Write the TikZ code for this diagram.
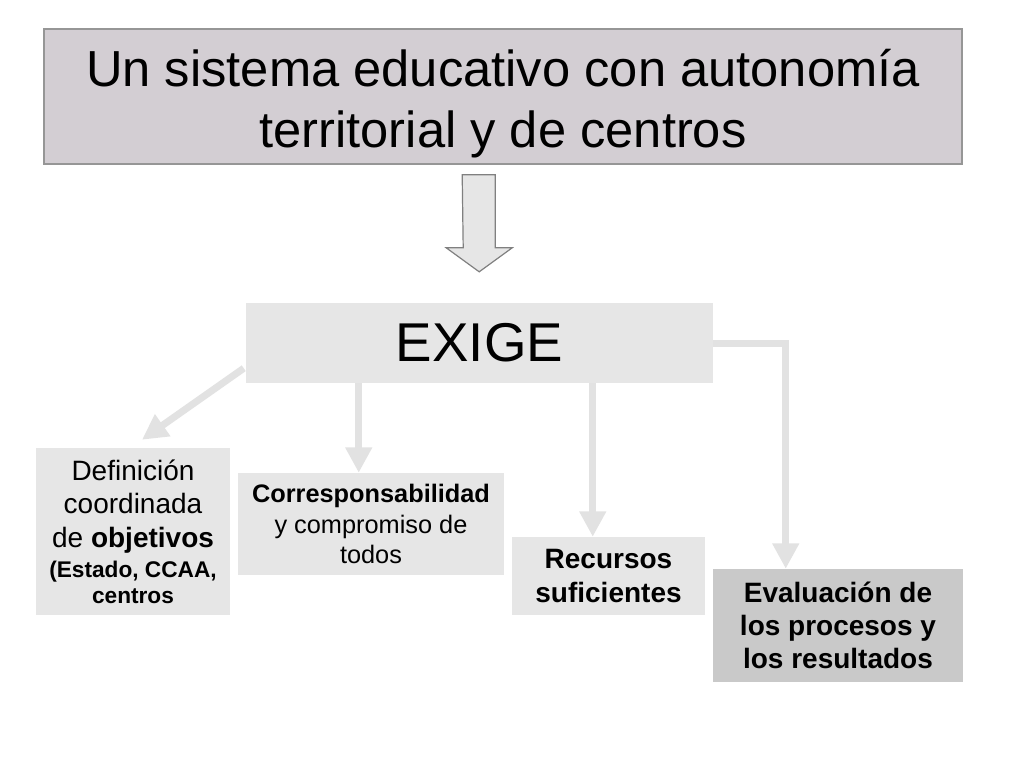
\documentclass[tikz,border=0pt]{standalone}
\usepackage{fontspec}
\setmainfont{Liberation Sans}
\usetikzlibrary{arrows.meta,calc}
\definecolor{titlefill}{RGB}{211,206,211}
\definecolor{titleline}{RGB}{150,150,150}
\definecolor{boxfill}{RGB}{230,230,230}
\definecolor{evalfill}{RGB}{201,201,201}
\definecolor{arrowgray}{RGB}{226,226,226}
\definecolor{bigarrowline}{RGB}{128,128,128}
\begin{document}
\begin{tikzpicture}[x=0.75pt,y=-0.75pt,
  box/.style={rectangle, fill=boxfill, inner sep=0pt, align=center, anchor=center},
  conn/.style={draw=arrowgray, line width=5.25pt, -{Triangle[width=19pt,length=19pt]}},
]
\useasboundingbox[fill=white] (0,0) rectangle (1024,768);

\node[box, fill=titlefill, draw=titleline, line width=1.2pt, minimum width=688.5pt, minimum height=101.25pt]
  (title) at (503,96.5) {};
\node[inner sep=0pt, align=center, font=\fontsize{38}{45.75}\selectfont]
  (titletext) at ($(title.center)+(0,7)$)
  {Un sistema educativo con autonomía\\territorial y de centros};

\node[box, minimum width=350.25pt, minimum height=60pt, font=\fontsize{41}{48}\selectfont]
  (exige) at (479.5,343) {\raisebox{-1.5pt}{EXIGE}};

\node[box, minimum width=145.5pt, minimum height=125.25pt, font=\fontsize{21}{25}\selectfont]
  (def) at (133,531.5)
  {Definición\\coordinada\\de \textbf{objetivos}\\[-2pt]{\fontsize{17}{20}\selectfont\bfseries (Estado, CCAA,}\\[-6pt]{\fontsize{17}{20}\selectfont\bfseries centros}};

\node[box, minimum width=199.5pt, minimum height=76.5pt, font=\fontsize{19}{23}\selectfont]
  (corr) at (371,524)
  {\textbf{Corresponsabilidad}\\y compromiso de\\todos};

\node[box, minimum width=144.75pt, minimum height=58.5pt, font=\fontsize{21}{25}\selectfont\bfseries]
  (rec) at (608.5,576)
  {Recursos\\suficientes};

\node[box, fill=evalfill, minimum width=187.5pt, minimum height=84.75pt, font=\fontsize{21}{25}\selectfont\bfseries]
  (eval) at (838,625.5)
  {Evaluación de\\los procesos y\\los resultados};

% big hollow arrow between title and EXIGE
\coordinate (bigtop) at ($(title.south west)+(419,10)$);
\filldraw[fill=boxfill, draw=bigarrowline, line width=0.9pt, line join=miter]
  (bigtop) -- ++(33,0) -- ++(0,73) -- ++(17,0) -- ++(-33,24) -- ++(-33,-24) -- ++(17,0) -- cycle;

% connectors
\draw[conn] ($(exige.south west)+(-2,-15)$) -- ($(def.north)+(9,-8)$);
\draw[conn] ($(exige.south west)+(113,0)$) -- ($(corr.north west)+(121,0)$);
\draw[conn] ($(exige.south west)+(347,0)$) -- ($(rec.north west)+(81,0)$);
\draw[conn] (exige.east) -| ($(eval.north west)+(73,0)$);
\end{tikzpicture}
\end{document}
